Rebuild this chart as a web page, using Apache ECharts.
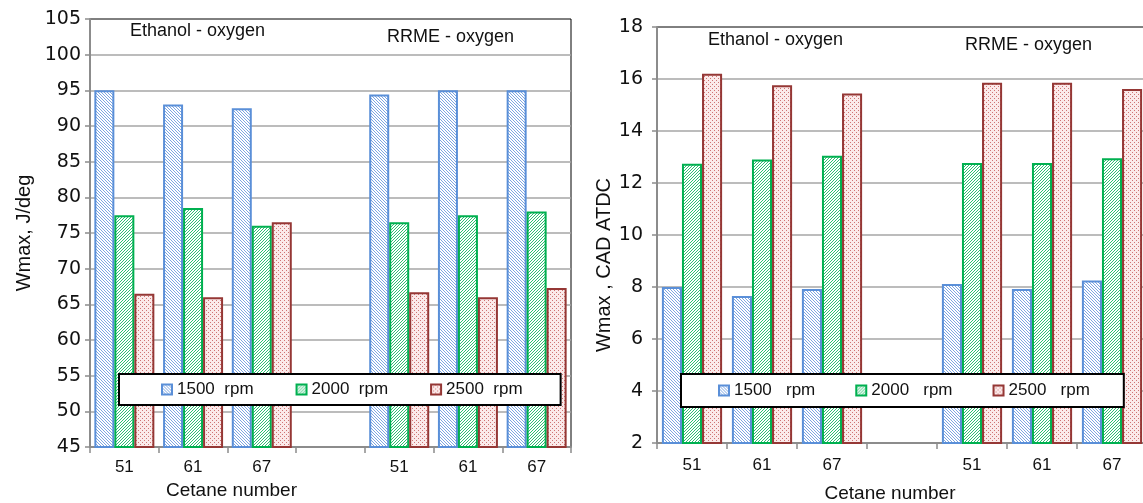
<!DOCTYPE html>
<html><head><meta charset="utf-8">
<script src="https://cdn.jsdelivr.net/npm/echarts@6/dist/echarts.min.js"></script>
<style>html,body{margin:0;padding:0;background:#fff}#c{width:1143px;height:503px}</style>
</head><body><div id="c"></div>
<script>
// ---- data ----
const categories = ['51', '61', '67', '', '51', '61', '67'];
const leftSeriesNames = ['1500  rpm', '2000  rpm', '2500  rpm'];
const rightSeriesNames = ['1500   rpm', '2000   rpm', '2500   rpm'];
// Left chart: Wmax, J/deg
const wmax1500 = [95, 93, 92.5, null, 94.4, 95, 95];
const wmax2000 = [77.5, 78.5, 76, null, 76.5, 77.5, 78];
const wmax2500 = [66.5, 66, 76.5, null, 66.7, 66, 67.3];
// Right chart: Wmax, CAD ATDC
const cad1500 = [8.0, 7.65, 7.92, null, 8.12, 7.92, 8.25];
const cad2000 = [12.74, 12.9, 13.05, null, 12.77, 12.77, 12.95];
const cad2500 = [16.2, 15.76, 15.44, null, 15.86, 15.86, 15.62];
const annotations = ['Ethanol - oxygen', 'RRME - oxygen'];

const FONT = '"Liberation Sans", Arial, sans-serif';
const NUMFONT = '"DejaVu Sans", sans-serif';

function makePattern(size, bg, fg, pts) {
  const c = document.createElement('canvas');
  c.width = size; c.height = size;
  const g = c.getContext('2d');
  g.fillStyle = bg; g.fillRect(0, 0, size, size);
  g.fillStyle = fg;
  pts.forEach(p => g.fillRect(p[0], p[1], 1, 1));
  return { image: c, repeat: 'repeat' };
}
const bluePat = makePattern(3, '#ffffff', '#7ea6e2', [[0,0],[1,1],[2,2]]);
const greenPat = makePattern(3, '#ffffff', '#2fbf73', [[2,0],[1,1],[0,2]]);
const redPat = makePattern(4, '#fbeaea', '#cf7474', [[0,0],[2,2]]);
const fills = [bluePat, greenPat, redPat];
const borders = ['#5a8fd8', '#00b050', '#953735'];

function bar(name, data, idx, k, gap) {
  return {
    type: 'bar', name: name, data: data, xAxisIndex: idx, yAxisIndex: idx,
    barGap: '0%', barCategoryGap: gap,
    itemStyle: { color: fills[k], borderColor: borders[k], borderWidth: 2 },
    emphasis: { disabled: true }, animation: false
  };
}

const axisGray = '#8c8c8c';
function xAx(idx, labelMargin, nameGap, namePad) {
  return {
    type: 'category', gridIndex: idx, data: categories,
    axisLine: { lineStyle: { color: axisGray, width: 2 } },
    axisTick: { show: true, interval: 0, length: 6, lineStyle: { color: axisGray, width: 1.5 } },
    axisLabel: { interval: 0, fontSize: 17, color: '#111', fontFamily: FONT, margin: labelMargin },
    name: 'Cetane number', nameLocation: 'middle', nameGap: nameGap,
    nameTextStyle: { fontSize: 19, color: '#111', fontFamily: FONT, padding: namePad }
  };
}
function yAx(idx, min, max, interval, name, nameGap, margin, namePad) {
  return {
    type: 'value', gridIndex: idx, min: min, max: max, interval: interval,
    axisLine: { show: true, lineStyle: { color: axisGray, width: 2 } },
    axisTick: { show: true, length: 5, lineStyle: { color: axisGray, width: 1.5 } },
    splitLine: { show: true, showMaxLine: false, showMinLine: false, lineStyle: { color: '#a6a6a6', width: 1.5 } },
    axisLabel: { fontSize: 19, color: '#111', fontFamily: NUMFONT, margin: margin },
    name: name, nameLocation: 'middle', nameGap: nameGap, nameRotate: 90,
    nameTextStyle: { fontSize: 20, color: '#111', fontFamily: FONT, padding: namePad }
  };
}

const chart = echarts.init(document.getElementById('c'), null, { renderer: 'canvas' });
chart.setOption({
  animation: false,
  backgroundColor: '#fff',
  grid: [
    { left: 90, top: 19, width: 481, height: 428, outerBoundsMode: 'none', containLabel: false,
      show: true, borderColor: '#000', borderWidth: 1, backgroundColor: 'transparent' },
    { left: 657, top: 27, width: 490, height: 416, outerBoundsMode: 'none', containLabel: false,
      show: true, borderColor: '#000', borderWidth: 1, backgroundColor: 'transparent' }
  ],
  xAxis: [xAx(0, 12, 25, [0, 198, 0, 0]), xAx(1, 14, 41, [0, 24, 0, 0])],
  yAxis: [
    yAx(0, 45, 105, 5, 'Wmax, J/deg', 56, 9, [0, 0, 0, 0]),
    yAx(1, 2, 18, 2, 'Wmax , CAD ATDC', 34, 14, [0, 60, 0, 0])
  ],
  legend: [
    { data: leftSeriesNames, left: 119, top: 374, icon: 'rect', itemWidth: 10, itemHeight: 10, itemGap: 42,
      padding: [7, 38, 7, 42], backgroundColor: '#fff', borderColor: '#000', borderWidth: 2, selectedMode: false,
      textStyle: { fontSize: 17, color: '#111', fontFamily: FONT } },
    { data: rightSeriesNames, left: 681, top: 374, icon: 'rect', itemWidth: 10, itemHeight: 10, itemGap: 40,
      padding: [8, 34, 8, 37], backgroundColor: '#fff', borderColor: '#000', borderWidth: 2, selectedMode: false,
      textStyle: { fontSize: 17, color: '#111', fontFamily: FONT } }
  ],
  graphic: [
    { type: 'text', left: 130, top: 22, style: { text: annotations[0], font: '18px ' + FONT, fill: '#111' } },
    { type: 'text', left: 387, top: 28, style: { text: annotations[1], font: '18px ' + FONT, fill: '#111' } },
    { type: 'text', left: 708, top: 31, style: { text: annotations[0], font: '18px ' + FONT, fill: '#111' } },
    { type: 'text', left: 965, top: 36, style: { text: annotations[1], font: '18px ' + FONT, fill: '#111' } }
  ],
  series: [
    bar(leftSeriesNames[0], wmax1500, 0, 0, '12.7%'),
    bar(leftSeriesNames[1], wmax2000, 0, 1, '12.7%'),
    bar(leftSeriesNames[2], wmax2500, 0, 2, '12.7%'),
    bar(rightSeriesNames[0], cad1500, 1, 0, '14%'),
    bar(rightSeriesNames[1], cad2000, 1, 1, '14%'),
    bar(rightSeriesNames[2], cad2500, 1, 2, '14%')
  ]
});
</script>
</body></html>
